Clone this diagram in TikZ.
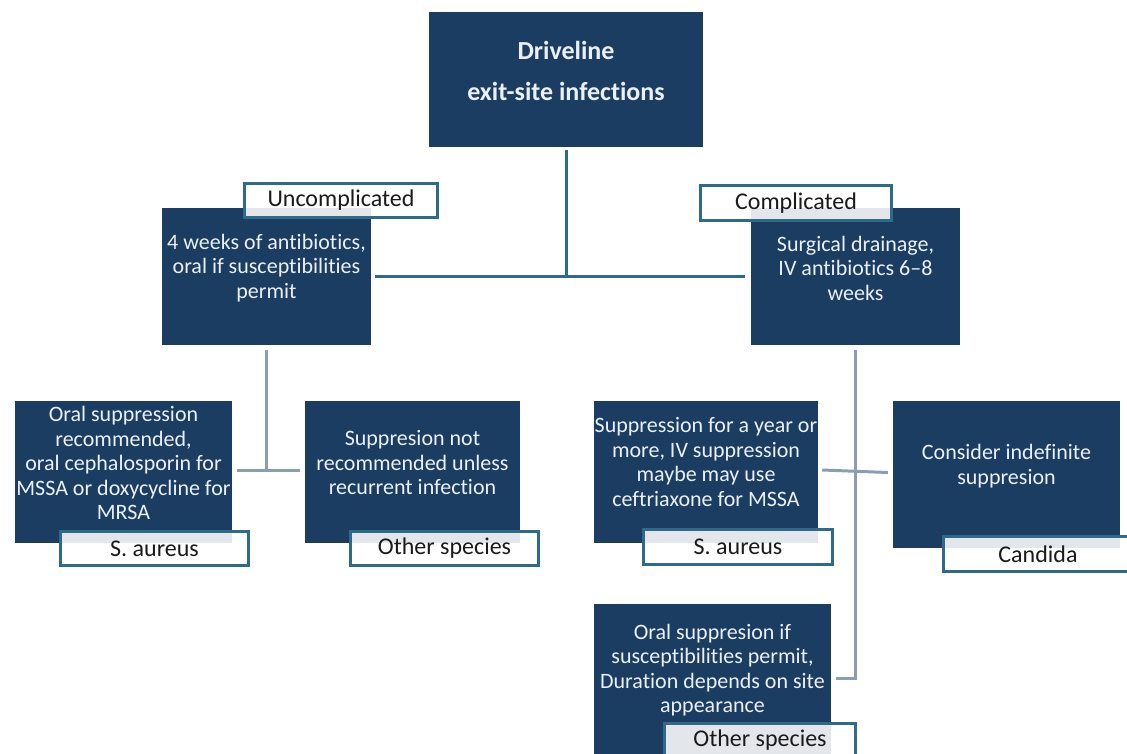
\documentclass[tikz,border=0pt]{standalone}
\usepackage{fontspec}
\setmainfont{Carlito}[Ligatures=NoCommon]
\usetikzlibrary{calc}
\definecolor{navy}{RGB}{27,61,98}
\definecolor{teal}{RGB}{46,107,138}
\definecolor{greyline}{RGB}{140,157,179}
\definecolor{boxtext}{RGB}{235,240,246}
\definecolor{labtext}{RGB}{26,26,26}
\tikzset{
  dbox/.style={fill=navy, draw=none, inner sep=0pt},
  dtext/.style={text=boxtext, align=center, inner sep=0pt,
    font=\fontsize{22}{24.5}\selectfont},
  labbox/.style={draw=teal, line width=3pt, fill=white, fill opacity=0.88,
    text opacity=1, text=labtext, inner sep=0pt,
    font=\fontsize{24}{28}\selectfont},
  topconn/.style={draw=teal, line width=3pt},
  lowconn/.style={draw=greyline, line width=3pt},
}
\begin{document}
\begin{tikzpicture}[x=1pt,y=-1pt]
\useasboundingbox (0,0) rectangle (1127,753);
\fill[white] (0,0) rectangle (1127,753);

% top box
\node[dbox, minimum width=274pt, minimum height=135pt] (top) at (566,79.5) {};
\node[dtext, font=\fontsize{26}{41}\selectfont\bfseries] (topt) at (566,71) {Driveline\\exit-site infections};

% second level
\node[dbox, minimum width=209pt, minimum height=137pt] (ub) at (266.5,276.5) {};
\node[dtext] (ubt) at (266.5,268) {4 weeks of antibiotics,\\oral if susceptibilities\\permit};
\node[dbox, minimum width=209pt, minimum height=137pt] (cb) at (855.5,276.5) {};
\node[dtext] (cbt) at (855.5,268) {Surgical drainage,\\IV antibiotics 6--8\\weeks};

% third level left
\node[dbox, minimum width=217pt, minimum height=142pt] (ls) at (123.5,472) {};
\node[dtext] (lst) at (123.5,463) {Oral suppression\\recommended,\\oral cephalosporin for\\MSSA or doxycycline for\\MRSA};
\node[dbox, minimum width=215pt, minimum height=142pt] (lo) at (412.5,472) {};
\node[dtext] (lot) at (412.5,463) {Suppresion not\\recommended unless\\recurrent infection};

% third level right
\node[dbox, minimum width=224pt, minimum height=142pt] (rs) at (706,472) {};
\node[dtext] (rst) at (706,462) {Suppression for a year or\\more, IV suppression\\maybe may use\\ceftriaxone for MSSA};
\node[dbox, minimum width=227pt, minimum height=147pt] (rc) at (1006.5,474.5) {};
\node[dtext] (rct) at (1006.5,466) {Consider indefinite\\suppresion};
\node[dbox, minimum width=237pt, minimum height=170pt] (ro) at (712.5,689) {};
\node[dtext] (rot) at (712.5,670) {Oral suppresion if\\susceptibilities permit,\\Duration depends on site\\appearance};

% connectors
\coordinate (tj) at (top.south |- ub.east);
\draw[topconn] ($(top.south)+(0,3)$) -- (tj);
\draw[topconn] ($(ub.east)+(4,0)$) -- ($(cb.west)+(-6,0)$);

\coordinate (lj) at (ub.south |- 0,470);
\draw[lowconn] ($(ub.south)+(0,5)$) -- (lj);
\draw[lowconn] ($(ls.east)+(5,-2)$) -- ($(lo.west)+(-5,-2)$);

\coordinate (rj) at (cb.south |- 0,470);
\coordinate (re) at (cb.south |- 0,678);
\draw[lowconn] ($(cb.south)+(0,5)$) -- (re) -- ($(ro.east |- re)+(5,0)$);
\draw[lowconn] ($(rs.east)+(4,-2)$) -- ($(rc.west)+(-5,-2)$);

% labels
\node[labbox, minimum width=193pt, minimum height=34pt] (ul) at (341,200.5) {Uncomplicated};
\node[labbox, minimum width=191pt, minimum height=35pt] (cl) at (796,203) {Complicated};
\node[labbox, minimum width=188pt, minimum height=34pt] (lsl) at (154.5,548.5) {S. aureus};
\node[labbox, minimum width=188pt, minimum height=34pt] (lol) at (444.5,548.5) {Other species};
\node[labbox, minimum width=189pt, minimum height=35pt] (rsl) at (738,547) {S. aureus};
\node[labbox, minimum width=190pt, minimum height=35pt] (rcl) at (1038,554) {Candida};
\node[labbox, minimum width=191pt, minimum height=35pt] (rol) at (760,740.5) {Other species};
\end{tikzpicture}
\end{document}
